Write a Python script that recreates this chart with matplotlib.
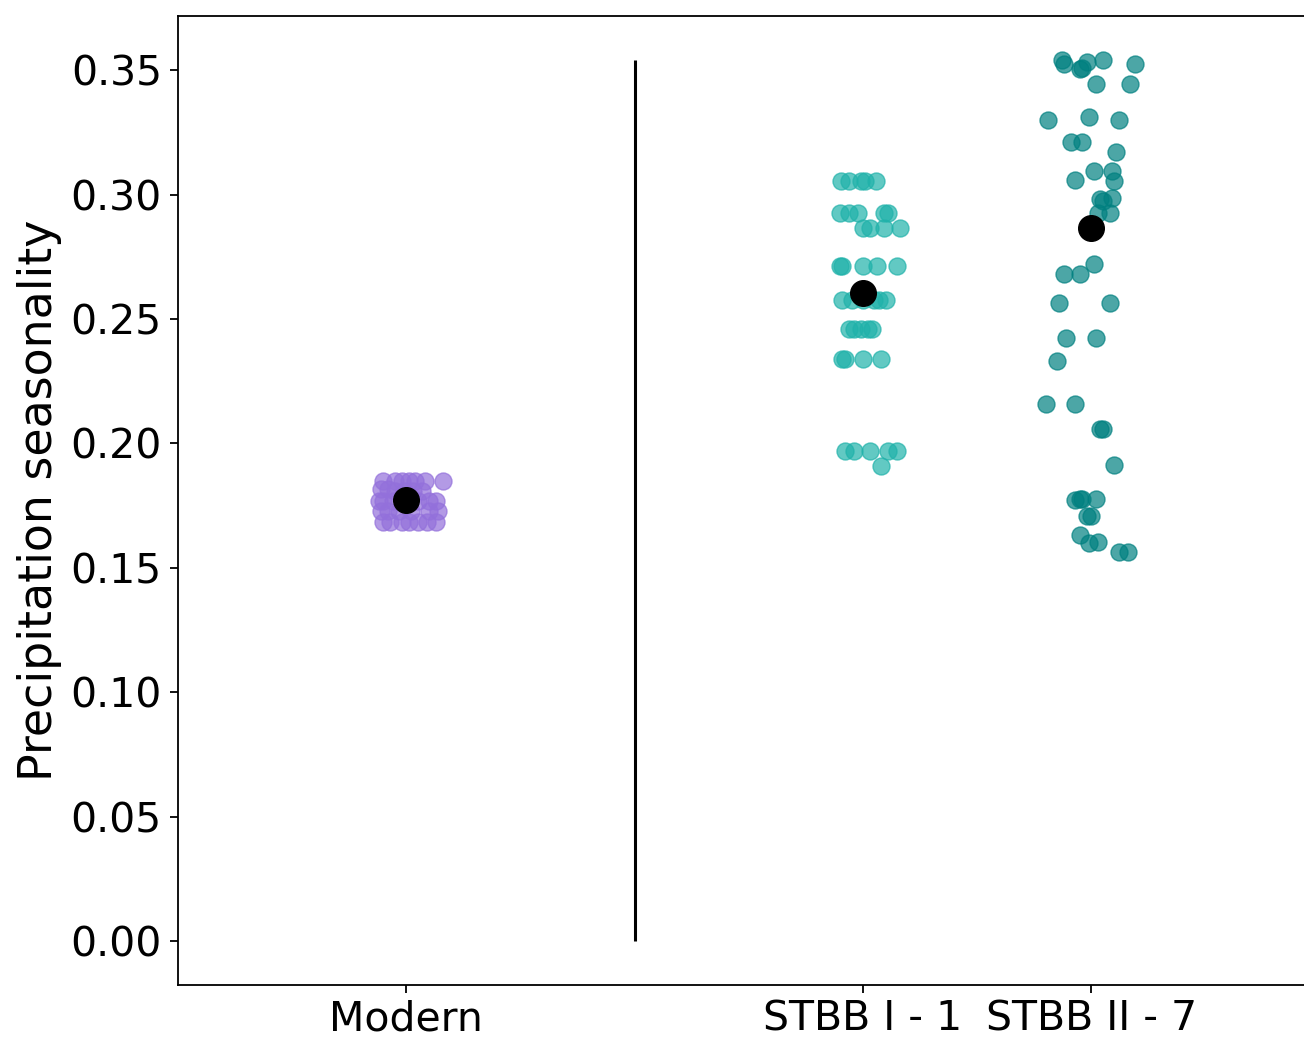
import matplotlib
matplotlib.use("Agg")
import matplotlib.pyplot as plt
import numpy as np

groups = ["Modern", "STBB I - 1", "STBB II - 7"]
group_pos = [0, 2, 3]
colors = ["mediumpurple", "lightseagreen", "teal"]

# jittered x positions and values
modern_x = [-0.10, -0.05, -0.02, 0.01, 0.04, 0.08, 0.16,
            -0.11, -0.08, -0.05, -0.01, 0.03, 0.07,
            -0.12, -0.10, -0.06, 0.00, 0.05, 0.10, 0.13,
            -0.11, -0.08, -0.03, 0.02, 0.10, 0.14,
            -0.10, -0.07, -0.02, 0.01, 0.05, 0.09, 0.13]
modern_y = [0.185, 0.185, 0.185, 0.185, 0.185, 0.185, 0.185,
            0.1815, 0.1815, 0.181, 0.181, 0.181, 0.181,
            0.177, 0.177, 0.177, 0.177, 0.177, 0.177, 0.177,
            0.173, 0.173, 0.173, 0.173, 0.173, 0.173,
            0.1685, 0.1685, 0.1685, 0.1685, 0.1685, 0.1685, 0.1685]

stbb1_x = [1.905, 1.94, 1.99, 2.01, 2.055,
           1.90, 1.94, 1.98, 2.09, 2.11,
           2.00, 2.03, 2.09, 2.16,
           1.90, 1.91, 2.00, 2.06, 2.15,
           1.91, 1.95, 2.00, 2.05, 2.07, 2.10,
           1.94, 1.96, 1.99, 2.02, 2.04,
           1.91, 1.92, 2.00, 2.08,
           1.92, 1.96, 2.03, 2.11, 2.15,
           2.08]
stbb1_y = [0.3056, 0.3056, 0.3056, 0.3056, 0.3056,
           0.2925, 0.2925, 0.2925, 0.2925, 0.2925,
           0.2864, 0.2864, 0.2864, 0.2864,
           0.2714, 0.2714, 0.2714, 0.2714, 0.2714,
           0.2576, 0.2576, 0.2576, 0.2576, 0.2576, 0.2576,
           0.2458, 0.2458, 0.2458, 0.2458, 0.2458,
           0.2338, 0.2338, 0.2338, 0.2338,
           0.197, 0.197, 0.197, 0.197, 0.197,
           0.1909]

stbb2_x = [2.87, 2.88, 2.98, 2.95, 2.96, 3.05, 3.19,
           3.02, 3.17, 2.81, 2.99, 3.12, 2.91, 2.96, 3.11,
           3.01, 3.09, 2.93, 3.10, 3.04, 3.09, 3.05, 3.03, 3.08,
           3.01, 2.88, 2.95, 2.86, 3.08, 2.89, 3.02, 2.85,
           2.80, 2.93, 3.04, 3.05, 3.10, 2.93, 2.95, 2.96, 3.02,
           2.98, 3.00, 2.95, 2.99, 3.03, 3.12, 3.16]
stbb2_y = [0.3541, 0.3525, 0.3534, 0.3503, 0.3507, 0.3541, 0.3525,
           0.3445, 0.3445, 0.3300, 0.3313, 0.3300, 0.3210, 0.3210, 0.3172,
           0.3095, 0.3095, 0.3058, 0.3056, 0.2981, 0.2985, 0.2975, 0.2927, 0.2925,
           0.2723, 0.2681, 0.2681, 0.2563, 0.2563, 0.2422, 0.2422, 0.2331,
           0.2158, 0.2158, 0.2056, 0.2056, 0.1913, 0.1772, 0.1775, 0.1776, 0.1776,
           0.1709, 0.1709, 0.1632, 0.1598, 0.1602, 0.1565, 0.1565]

means = [0.1772, 0.2605, 0.2864]

fig = plt.figure(figsize=(13.04, 10.38), dpi=100)
ax = fig.add_axes([0.1365, 0.051, 0.8755, 0.9336])

for xs, ys, c in zip([modern_x, stbb1_x, stbb2_x], [modern_y, stbb1_y, stbb2_y], colors):
    ax.scatter(xs, ys, s=150, color=c, alpha=0.7, zorder=2)

ax.scatter(group_pos, means, s=340, color="black", zorder=3)

all_y = modern_y + stbb1_y + stbb2_y
ax.vlines(1, 0, max(all_y), color="black", lw=2.2, zorder=1)

ax.set_xlim(-1, 4)
ax.set_ylim(-0.0177, 0.3718)
ax.set_xticks(group_pos)
ax.set_xticklabels(groups)
ax.set_yticks(np.arange(0, 0.351, 0.05))
ax.tick_params(labelsize=29.5, length=5.8, width=1.3, pad=5.8)
ax.tick_params(axis="x", pad=4.5)
ax.set_ylabel("Precipitation seasonality", fontsize=33, labelpad=6)
for sp in ax.spines.values():
    sp.set_linewidth(1.3)

fig.savefig("out.png", dpi=100)
